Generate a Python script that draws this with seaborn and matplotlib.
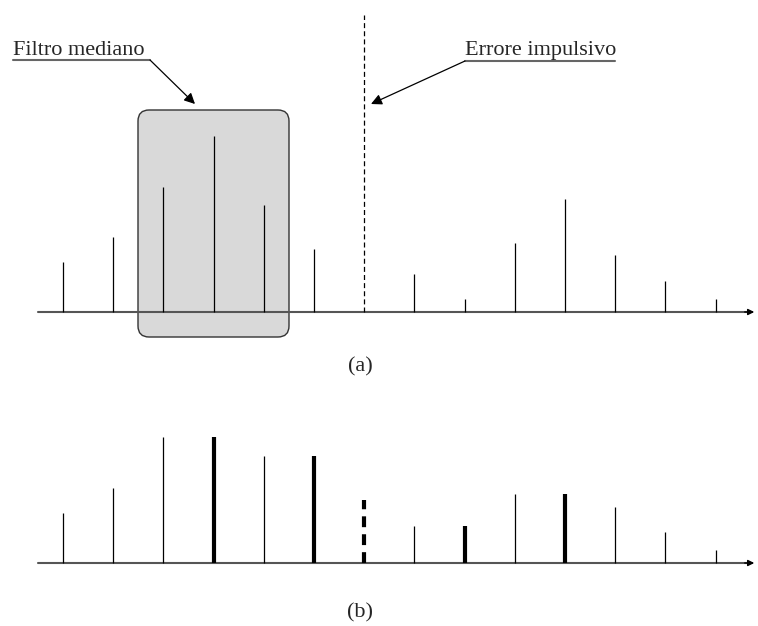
import numpy as np
import matplotlib.pyplot as plt
import seaborn as sns
from matplotlib.patches import FancyBboxPatch

# campioni del segnale (a) e uscita del filtro mediano (b)
idx = np.arange(14)
sig_a = [50, 75, 125, 176, 107, 63, 297, 38, 13, 69, 113, 57, 31, 13]
sig_b = [50, 75, 126, 126, 107, 107, 63, 37, 37, 69, 69, 56, 31, 13]
impulse_idx = 6
bold_b = [3, 5, 6, 8, 10]
label_a = "(a)"
label_b = "(b)"
txt_filter = "Filtro mediano"
txt_error = "Errore impulsivo"

sns.set_theme(style="white")
plt.rcParams['font.family'] = ['Liberation Serif', 'DejaVu Serif']

W, H = 758, 626
fig = plt.figure(figsize=(W / 100, H / 100), dpi=100)

# px -> data: x = (px - 63) / 50.2
step = 50.2
x0 = 63
xlim = (-x0 / step, (W - x0) / step)

ax1 = fig.add_axes([0, 1 - 390 / H, 1, 390 / H])
ax2 = fig.add_axes([0, 0, 1, 1 - 390 / H])
ax1.set_xlim(*xlim)
ax1.set_ylim(312 - 390, 312)
ax2.set_xlim(*xlim)
ax2.set_ylim(563 - 626, 563 - 390)
for ax in (ax1, ax2):
    ax.axis('off')


def draw_axis(ax):
    x_end = (757 - x0) / step
    ax.plot([-0.5, x_end - 0.1], [0, 0], color='#555555', lw=1.5, zorder=3)
    ax.annotate('', xy=(x_end, 0), xytext=(x_end - 0.3, 0),
                arrowprops=dict(arrowstyle='-|>', color='black', lw=1.0,
                                mutation_scale=9), zorder=4)


# ---- pannello (a)
box = FancyBboxPatch(((138 - x0) / step, -25), (289 - 138) / step, 227,
                     boxstyle="round,pad=0,rounding_size=0.22",
                     mutation_aspect=50.2,
                     facecolor='#d9d9d9', edgecolor='#333333', lw=1.0, zorder=1)
ax1.add_patch(box)
draw_axis(ax1)
normal = [i for i in idx if i != impulse_idx]
ax1.vlines(normal, 0, [sig_a[i] for i in normal], color='black', lw=0.9, zorder=5)
ax1.vlines(impulse_idx, 0, sig_a[impulse_idx], color='black', lw=0.9,
           linestyles=(0, (4, 2.5)), zorder=5)

# etichette con sottolineatura e freccia
ax1.text((13 - x0) / step, 257, txt_filter, fontsize=16, va='baseline', ha='left')
ax1.plot([(13 - x0) / step, (150 - x0) / step], [252, 252], color='#666666', lw=1.5)
ax1.annotate('', xy=((195 - x0) / step, 208), xytext=((150 - x0) / step, 252),
             arrowprops=dict(arrowstyle='-|>', color='black', lw=0.9,
                             mutation_scale=16, shrinkA=0, shrinkB=0))

ax1.text((465 - x0) / step, 257, txt_error, fontsize=16, va='baseline', ha='left')
ax1.plot([(465 - x0) / step, (615 - x0) / step], [251, 251], color='#666666', lw=1.5)
ax1.annotate('', xy=((371 - x0) / step, 208), xytext=((465 - x0) / step, 251),
             arrowprops=dict(arrowstyle='-|>', color='black', lw=0.9,
                             mutation_scale=16, shrinkA=0, shrinkB=0))

ax1.text((360 - x0) / step, -55, label_a, fontsize=16, ha='center', va='center')

# ---- pannello (b)
draw_axis(ax2)
thin = [i for i in idx if i not in bold_b]
thick = [i for i in bold_b if i != impulse_idx]
ax2.vlines(thin, 0, [sig_b[i] for i in thin], color='black', lw=0.9, zorder=5)
ax2.vlines(thick, 0, [sig_b[i] for i in thick], color='black', lw=3.0, zorder=5)
ax2.vlines(impulse_idx, 0, sig_b[impulse_idx], color='black', lw=3.0,
           linestyles=(0, (2.6, 1.7)), zorder=5)

ax2.text((360 - x0) / step, -50, label_b, fontsize=16, ha='center', va='center')

fig.savefig('out.png', dpi=100)
